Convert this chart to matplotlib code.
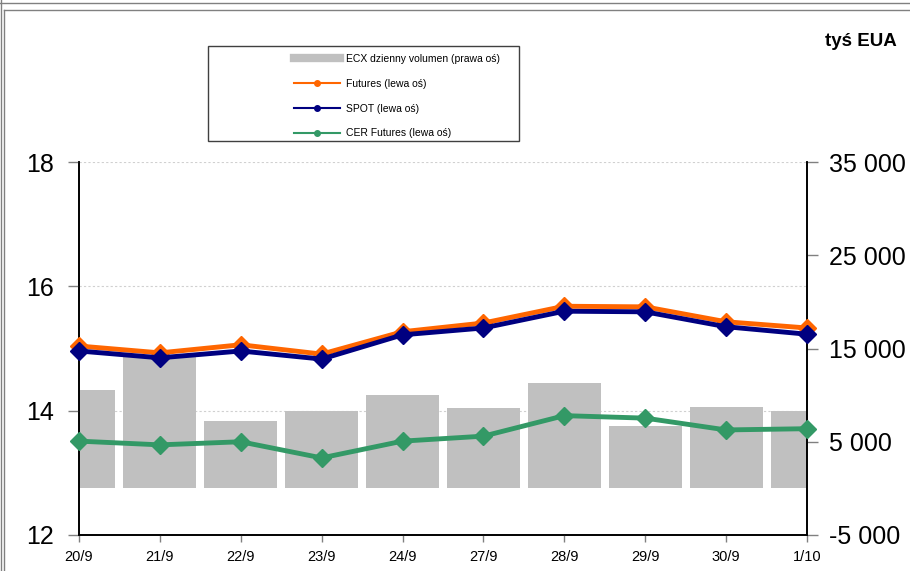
import matplotlib.pyplot as plt
from matplotlib.lines import Line2D
from matplotlib.patches import Rectangle

plt.rcParams['font.family'] = ['Liberation Sans', 'DejaVu Sans']

dates = ['20/9', '21/9', '22/9', '23/9', '24/9', '27/9', '28/9', '29/9', '30/9', '1/10']
volume = [10500, 14100, 7200, 8300, 10000, 8600, 11300, 6700, 8700, 8300]
futures = [15.04, 14.93, 15.06, 14.91, 15.27, 15.41, 15.68, 15.67, 15.43, 15.33]
spot = [14.96, 14.85, 14.96, 14.83, 15.22, 15.33, 15.60, 15.59, 15.35, 15.23]
cer = [13.51, 13.45, 13.50, 13.24, 13.51, 13.59, 13.92, 13.88, 13.69, 13.71]

left_lim = (12, 18)
right_lim = (-5000, 35000)

c_bar = '#c0c0c0'
c_fut = '#ff6600'
c_spot = '#000080'
c_cer = '#339966'

fig = plt.figure(figsize=(9.1, 5.71), dpi=100)
ax = fig.add_axes([79 / 910, 36 / 571, 728 / 910, 373 / 571])
ax2 = ax.twinx()

x = list(range(len(dates)))


def left_to_right(v):
    return right_lim[0] + (v - left_lim[0]) / (left_lim[1] - left_lim[0]) * (right_lim[1] - right_lim[0])


# grid at left ticks, drawn under the bars
for g in [14, 16, 18]:
    ax2.axhline(left_to_right(g), color='#d0d0d0', lw=0.8, ls=(0, (2, 2)), zorder=0)

ax2.bar(x, volume, width=0.9, color=c_bar, zorder=1)
ax2.set_ylim(*right_lim)
ax2.set_yticks(range(-5000, 35001, 10000))
ax2.set_yticklabels(['{:,}'.format(v).replace(',', ' ') for v in range(-5000, 35001, 10000)])

ax.set_zorder(ax2.get_zorder() + 1)
ax.patch.set_visible(False)
ax.plot(x, futures, color=c_fut, lw=3.5, marker='D', ms=9, clip_on=False, zorder=3)
ax.plot(x, spot, color=c_spot, lw=3.5, marker='D', ms=9, clip_on=False, zorder=4)
ax.plot(x, cer, color=c_cer, lw=3.5, marker='D', ms=9, clip_on=False, zorder=3)
ax.set_ylim(*left_lim)
ax.set_yticks([12, 14, 16, 18])
ax.set_xlim(0, 9)
ax.set_xticks(x)
ax.set_xticklabels(dates)

for a in (ax, ax2):
    a.spines['top'].set_visible(False)
    for s in ('left', 'right', 'bottom'):
        a.spines[s].set_color('black')
        a.spines[s].set_linewidth(1.2)

ax.tick_params(axis='y', direction='out', length=8, width=1, color='#808080', labelsize=18, pad=10)
ax2.tick_params(axis='y', direction='out', length=8, width=1, color='#808080', labelsize=18, pad=8)
ax.tick_params(axis='x', direction='out', length=5, width=1, color='#808080', labelsize=10.5, pad=6)

fig.text(897 / 910, 1 - 42 / 571, 'tyś EUA', ha='right', va='center', fontsize=13.5, fontweight='bold')

# legend box
fig.patches.append(Rectangle((208 / 910, 1 - 141 / 571), 311 / 910, 95 / 571,
                             transform=fig.transFigure, fill=False, edgecolor='#404040', lw=1))
handles = [
    Line2D([], [], color=c_bar, lw=6),
    Line2D([], [], color=c_fut, lw=1.5, marker='o', ms=4),
    Line2D([], [], color=c_spot, lw=1.5, marker='o', ms=4),
    Line2D([], [], color=c_cer, lw=1.5, marker='o', ms=4),
]
labels = ['ECX dzienny volumen (prawa oś)', 'Futures (lewa oś)', 'SPOT (lewa oś)', 'CER Futures (lewa oś)']
fig.legend(handles, labels, loc='upper left', bbox_to_anchor=(294 / 910, 1 - 54 / 571),
           frameon=False, fontsize=7.5, handlelength=4.4, handletextpad=0.6,
           labelspacing=1.42, borderpad=0, borderaxespad=0)

# outer frame lines
fig.add_artist(Line2D([0, 1], [1 - 3 / 571, 1 - 3 / 571], transform=fig.transFigure, color='#808080', lw=1))
fig.add_artist(Line2D([4 / 910, 1], [1 - 10 / 571, 1 - 10 / 571], transform=fig.transFigure, color='#808080', lw=1))
fig.add_artist(Line2D([1 / 910, 1 / 910], [0, 1], transform=fig.transFigure, color='#808080', lw=1))
fig.add_artist(Line2D([4 / 910, 4 / 910], [0, 1 - 10 / 571], transform=fig.transFigure, color='#808080', lw=1))

fig.savefig('out.png', dpi=100)
